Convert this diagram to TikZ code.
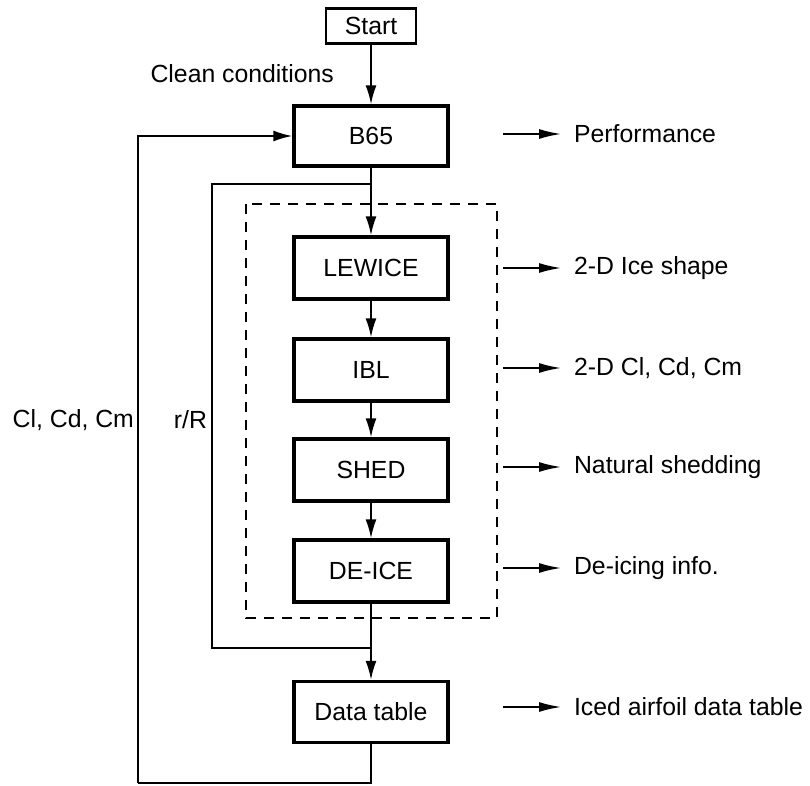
\documentclass[tikz,border=0pt]{standalone}
\usepackage{fontspec}
\setmainfont{Liberation Sans}
\usetikzlibrary{arrows.meta}

\tikzset{
    block/.style={draw, line width=1.7pt, minimum width=77pt, minimum height=31pt, inner sep=2pt},
    flow/.style={-{Latex[length=9.5pt,width=5.5pt]}, line width=0.9pt},
    output/.style={-{Latex[length=11pt,width=5pt]}, line width=0.8pt, shorten >=3pt},
    feedback/.style={line width=0.9pt},
    group/.style={dashed, dash pattern=on 5pt off 4pt, line width=1pt}
}

\begin{document}
\begin{tikzpicture}[x=0.5pt, y=-0.5pt,
    every node/.style={font=\fontsize{12.4}{15}\selectfont},
    edge from parent/.style={draw, flow},
    level 1/.style={level distance=55pt},
    level 2/.style={level distance=66pt},
    level 3/.style={level distance=51pt},
    level 4/.style={level distance=50pt},
    level 5/.style={level distance=50.5pt},
    level 6/.style={level distance=70.5pt}
]
\useasboundingbox (0,0) rectangle (810,786);

% main chain of codes
\node[block, minimum width=45pt, minimum height=17.5pt, line width=1.4pt] (start) at (371,26) {Start}
    child {node[block, minimum height=30pt] (b65) {B65}
        child {node[block] (lewice) {LEWICE}
            child {node[block] (ibl) {IBL}
                child {node[block] (shed) {SHED}
                    child {node[block] (deicer) {DE-ICE}
                        child {node[block, minimum height=30.5pt] (datatab) {Data table}}
                    }
                }
            }
        }
    };

\node[anchor=east] (clean) at (341,74) {Clean conditions};

% ice accretion group
\draw[group] (246,204) rectangle (497,618);

% r/R loop back into the ice codes
\coordinate (rrlow) at (212,648);
\coordinate (rrtop) at (212,184);
\draw[feedback] (deicer.south |- rrlow) -- (rrlow) -- (rrtop) -- (b65.south |- rrtop);
\node[anchor=east] (rr) at (214,420) {r/R};

% coefficients fed back to B65
\coordinate (fb) at (138,783);
\draw[feedback] (datatab.south) |- (fb);
\draw[flow] (fb) |- (b65.west);
\node[anchor=east] (coefs) at (141,420) {Cl, Cd, Cm};

% results on the right
\foreach \name/\ypos/\txt in {perf/134/Performance, shape/268/2-D Ice shape,
    coef/368/{2-D Cl, Cd, Cm}, natshed/467/Natural shedding,
    deiceinfo/568/De-icing info., table/707/Iced airfoil data table} {
    \coordinate (\name src) at (503,\ypos);
    \node[anchor=west] (\name out) at (567,\ypos) {\txt};
    \draw[output] (\name src) -- (\name out.west);
}
\end{tikzpicture}
\end{document}
